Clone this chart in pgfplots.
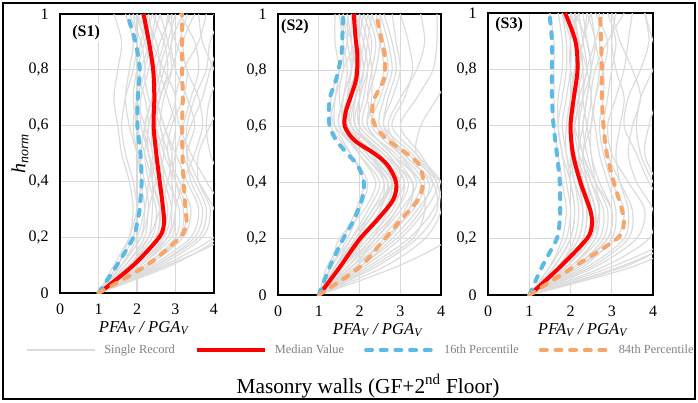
\documentclass[border=0pt]{standalone}
\usepackage{pgfplots}
\usepackage{pgfplotstable}
\usepackage{fontspec}
\setmainfont{Liberation Serif}
\pgfplotsset{compat=1.18}
\definecolor{gridgray}{RGB}{217,217,217}
\definecolor{recgray}{RGB}{220,220,220}
\definecolor{medred}{RGB}{255,0,0}
\definecolor{pblue}{RGB}{92,186,230}
\definecolor{porange}{RGB}{248,165,105}
\definecolor{legtext}{RGB}{128,128,128}

% single records, S1
\pgfplotstableread{
h   r1  r2  r3  r4  r5  r6  r7  r8  r9  r10 r11 r12 r13 r14 r15 r16 r17 r18 r19 r20 r21 r22 r23 r24 r25 r26 r27 r28 r29 r30
0   1   1   1   1   1   1   1   1   1   1   1   1   1   1   1   1   1   1   1   1   1   1   1   1   1   1   1   1   1   1
0.1 1.6 1.9 2.3 2.5 1.5 2.0 2.7 1.8 2.2 1.7 2.1 1.6 2.4 2.8 1.9 2.0 1.4 2.3 1.5 2.6 1.8 2.1 1.7 2.2 1.9 2.5 1.6 2.0 2.9 1.8
0.2 2.1 2.6 3.2 3.6 1.9 2.7 4.0 2.4 3.0 2.2 2.9 2.0 3.4 4.3 2.5 2.8 1.8 3.1 1.8 3.7 2.3 2.8 2.3 3.1 2.6 3.5 2.1 2.7 4.1 2.5
0.3 2.3 2.8 3.4 3.8 2.0 2.6 4.2 2.5 3.1 2.3 3.0 2.2 3.6 4.5 2.6 3.0 2.0 3.2 1.9 3.9 2.4 2.9 2.6 3.3 2.7 3.7 2.2 2.9 4.0 2.6
0.4 2.2 2.6 3.1 3.5 1.9 2.4 3.8 2.3 2.8 2.5 3.2 2.3 3.3 4.2 2.7 2.9 2.1 3.0 1.8 3.6 2.4 2.7 2.8 3.0 2.5 3.4 2.1 2.9 3.6 2.4
0.5 2.0 2.3 2.8 3.2 1.7 2.5 3.4 2.2 2.6 2.7 3.5 2.4 3.0 3.9 2.6 3.0 2.0 2.9 1.6 3.6 2.3 2.4 2.9 2.7 2.3 3.3 2.1 2.8 3.3 2.2
0.6 1.8 2.2 2.9 3.4 1.6 2.8 3.1 2.3 2.5 2.6 3.7 2.2 2.7 3.8 2.4 3.2 1.9 3.0 1.5 3.9 2.1 2.4 2.7 2.5 2.3 3.5 2.2 2.6 3.3 2.0
0.7 1.7 2.4 3.2 3.7 1.7 3.0 3.0 2.2 2.6 2.3 3.6 2.0 2.5 3.9 2.6 3.4 2.0 2.8 1.4 4.2 2.1 2.6 2.5 2.4 2.5 3.3 2.4 2.7 3.5 1.9
0.8 1.8 2.6 3.3 3.9 1.9 2.7 3.2 2.0 2.9 2.2 3.3 2.1 2.4 4.2 2.8 3.6 2.2 2.6 1.5 4.0 2.3 2.5 2.4 2.5 2.7 3.0 2.5 2.9 3.8 2.0
0.9 1.9 2.5 3.0 4.1 2.0 2.4 3.6 2.1 3.1 2.4 3.2 2.3 2.6 4.4 2.7 3.5 2.1 2.8 1.6 3.7 2.4 2.3 2.2 2.7 2.9 2.9 2.3 2.8 3.9 2.2
1.0 1.7 2.2 2.8 4.0 1.9 2.5 3.8 2.3 3.3 2.6 3.5 2.0 2.9 4.5 2.4 3.1 1.8 3.0 1.4 3.6 2.3 2.1 2.0 2.8 2.9 3.2 1.9 2.6 4.2 2.4
}\recA
% single records, S2
\pgfplotstableread{
h   r1  r2  r3  r4  r5  r6  r7  r8  r9  r10 r11 r12 r13 r14 r15 r16 r17 r18 r19 r20 r21 r22 r23 r24 r25 r26 r27 r28 r29 r30
0   1   1   1   1   1   1   1   1   1   1   1   1   1   1   1   1   1   1   1   1   1   1   1   1   1   1   1   1   1   1
0.1 1.4 1.6 1.9 1.3 2.2 1.5 1.8 2.6 1.4 1.7 2.0 1.3 1.6 2.3 1.5 2.9 1.8 1.2 2.0 1.4 1.5 1.7 1.3 1.9 1.6 2.1 1.4 1.8 2.4 1.5
0.2 1.9 2.2 2.6 1.7 3.2 2.0 2.5 3.6 1.8 2.4 2.9 1.8 2.3 3.3 2.1 4.2 2.7 1.6 2.8 2.0 2.1 2.3 1.5 2.7 2.1 3.0 1.9 2.4 3.4 1.9
0.3 2.4 2.8 3.3 2.0 3.8 2.6 3.1 4.0 2.2 3.0 3.5 2.3 2.7 3.6 2.6 4.4 3.2 1.9 3.4 2.5 2.6 2.9 2.1 3.2 2.5 3.6 2.3 2.9 3.9 2.4
0.4 2.7 3.0 3.6 2.2 4.0 2.9 3.3 3.9 2.5 3.4 3.7 2.6 3.1 3.5 2.8 4.0 3.5 2.1 3.8 2.6 3.0 3.2 2.4 3.3 2.7 3.9 2.8 3.1 3.8 2.8
0.5 2.2 2.4 3.0 1.8 3.4 2.5 2.6 3.5 2.0 2.9 3.1 2.1 2.7 3.0 2.3 3.4 2.8 1.8 3.3 2.3 2.5 2.7 2.0 2.8 2.1 3.2 2.4 2.6 3.1 2.2
0.6 1.6 1.7 2.3 1.3 2.8 1.9 1.8 3.0 1.5 2.1 2.4 1.4 2.0 2.6 1.8 3.5 2.2 1.4 2.6 1.7 1.8 2.0 1.6 2.2 1.5 2.5 1.7 1.9 2.7 1.6
0.7 1.7 1.8 2.5 1.4 3.1 2.0 1.7 3.4 1.6 2.2 2.2 1.3 2.0 2.7 1.9 3.9 2.3 1.4 2.8 1.5 1.8 2.1 1.6 2.4 1.6 2.6 1.9 1.9 3.0 1.7
0.8 1.9 2.0 2.7 1.6 3.3 2.2 1.8 3.8 1.7 2.4 2.3 1.5 2.1 2.9 2.1 4.3 2.3 1.5 3.0 1.6 1.9 2.2 1.8 2.6 1.8 2.8 2.1 2.0 3.4 1.9
0.9 1.8 2.0 2.6 1.6 3.2 2.3 1.7 3.9 1.6 2.5 2.4 1.7 2.0 2.8 2.2 4.5 2.2 1.4 2.9 1.9 1.9 2.1 1.9 2.5 1.8 2.7 2.0 2.1 3.6 1.8
1.0 1.8 1.9 2.4 1.6 3.0 2.1 1.6 3.9 1.5 2.5 2.2 1.7 2.0 2.6 2.3 4.4 2.0 1.4 2.8 2.0 1.8 1.9 1.9 2.3 1.7 2.5 2.1 2.2 3.5 1.6
}\recB
% single records, S3
\pgfplotstableread{
h   r1  r2  r3  r4  r5  r6  r7  r8  r9  r10 r11 r12 r13 r14 r15 r16 r17 r18 r19 r20 r21 r22 r23 r24 r25 r26 r27 r28 r29 r30
0   1   1   1   1   1   1   1   1   1   1   1   1   1   1   1   1   1   1   1   1   1   1   1   1   1   1   1   1   1   1
0.1 1.5 1.8 2.2 3.0 1.6 2.0 2.6 1.7 2.1 1.9 3.2 1.5 2.4 1.8 2.0 2.8 1.7 2.3 3.5 1.9 1.7 1.9 2.1 1.6 2.5 1.8 2.0 3.3 1.9 2.2
0.2 1.8 2.4 3.1 4.4 2.0 2.7 3.6 2.2 2.9 2.5 4.6 1.9 3.3 2.3 2.6 3.9 2.1 3.0 4.8 2.4 2.2 2.5 2.8 2.0 3.4 2.3 2.6 4.5 2.4 2.9
0.3 1.9 2.5 3.3 4.3 2.1 2.8 3.8 2.3 3.0 2.7 4.5 2.0 3.4 2.4 2.6 4.0 2.2 3.1 4.6 2.5 2.3 2.6 2.9 2.1 3.5 2.4 2.7 4.4 2.5 3.0
0.4 1.8 2.3 3.0 3.9 2.0 2.5 3.4 2.1 2.6 2.6 4.1 1.9 3.2 2.2 2.4 3.6 2.1 2.9 4.3 2.3 2.2 2.4 2.6 2.0 3.2 2.3 2.5 4.0 2.4 2.7
0.5 1.7 2.1 2.8 3.6 1.9 2.2 3.0 1.9 2.3 2.5 3.8 1.8 3.1 2.0 2.3 3.4 2.0 2.7 4.1 2.2 2.1 2.1 2.4 1.8 2.9 2.2 2.3 3.7 2.3 2.5
0.6 1.6 2.0 2.7 3.3 1.8 2.1 2.9 1.9 2.2 2.4 3.9 1.7 3.2 2.0 2.5 3.5 2.1 2.6 4.3 2.3 2.0 2.0 2.3 1.7 2.8 2.2 2.1 3.6 2.4 2.5
0.7 1.6 2.1 2.8 3.4 1.9 2.3 3.1 2.0 2.2 2.3 4.1 1.7 3.3 2.1 2.6 3.7 2.2 2.5 4.5 2.4 2.0 2.2 2.4 1.8 2.9 2.3 2.1 3.7 2.5 2.6
0.8 1.6 2.2 2.8 3.7 2.0 2.5 3.3 2.1 2.0 2.4 4.2 1.8 3.1 2.3 2.7 3.5 2.2 2.6 4.4 2.5 2.1 2.4 2.5 1.9 3.0 2.3 2.2 4.0 2.4 2.8
0.9 1.6 2.1 2.7 3.9 2.0 2.4 3.4 2.3 2.0 2.6 4.0 1.8 3.0 2.2 2.6 3.2 2.1 2.9 4.2 2.4 2.2 2.3 2.6 1.9 3.1 2.2 2.3 4.2 2.2 2.9
1.0 1.5 1.9 2.7 3.8 1.8 2.1 3.5 2.4 2.2 2.8 3.8 1.7 3.1 2.0 2.5 3.0 2.1 3.3 4.3 2.3 2.0 2.2 2.4 1.8 2.9 2.0 2.5 4.1 2.1 2.6
}\recC
% statistics: median, 16th and 84th percentiles
\pgfplotstableread{
h    med  lo   hi
0    1.02 1.00 1.00
0.1  1.91 1.48 2.26
0.2  2.58 1.91 3.12
0.25 2.70 2.00 3.28
0.3  2.68 2.07 3.26
0.4  2.59 2.12 3.21
0.5  2.50 2.09 3.18
0.6  2.43 2.01 3.17
0.7  2.45 2.02 3.19
0.8  2.42 2.07 3.17
0.9  2.31 1.96 3.17
1.0  2.17 1.74 3.17
}\statA
\pgfplotstableread{
h    med  lo   hi
0    1.01 1.00 1.00
0.1  1.52 1.27 2.01
0.2  2.01 1.60 2.62
0.27 2.45 1.87 3.03
0.34 2.83 2.06 3.44
0.4  2.90 2.11 3.56
0.46 2.70 1.96 3.48
0.5  2.40 1.72 3.19
0.55 1.88 1.43 2.70
0.6  1.64 1.27 2.39
0.65 1.66 1.25 2.31
0.7  1.77 1.27 2.37
0.77 1.92 1.43 2.60
0.85 1.95 1.55 2.62
0.92 1.90 1.58 2.52
1.0  1.86 1.60 2.41
}\statB
\pgfplotstableread{
h    med  lo   hi
0    1.01 1.00 1.00
0.1  1.75 1.31 2.08
0.2  2.40 1.67 3.13
0.25 2.52 1.73 3.29
0.3  2.48 1.75 3.25
0.4  2.24 1.74 3.05
0.5  2.06 1.67 2.88
0.6  2.00 1.59 2.80
0.7  2.08 1.55 2.76
0.8  2.17 1.55 2.76
0.9  2.12 1.55 2.74
1.0  1.87 1.49 2.72
}\statC

\pgfplotsset{
  panel/.style={
    scale only axis, anchor=south west,
    xmin=0, xmax=4, ymin=0, ymax=1,
    xtick={0,1,2,3,4}, ytick={0,0.2,0.4,0.6,0.8,1},
    grid=major, grid style={draw=gridgray, line width=1pt},
    axis line style={line width=1.5pt, black},
    major tick length=0pt, tick style={draw=none},
    ticklabel style={font=\fontsize{12}{14}\selectfont},
    yticklabel style={xshift=-5pt},
    xticklabel style={yshift=-7pt, inner sep=1pt},
    /pgf/number format/.cd, use comma, assume math mode=true,
    /pgfplots/.cd,
    xlabel={\textit{PFA\textsubscript{V} / PGA\textsubscript{V}}},
    xlabel style={font=\fontsize{12.5}{14}\selectfont, at={(axis description cs:0.5,0)}, anchor=center, yshift=-26.5pt, inner sep=0pt},
    legend image code/.code={\draw[##1] (0pt,0pt) -- (51pt,0pt);},
  },
  rec/.style={recgray, line width=0.9pt, smooth, forget plot},
  medl/.style={medred, line width=3pt, smooth},
  lol/.style={pblue, line width=3pt, smooth, line cap=round, dash pattern=on 4.5pt off 6.5pt},
  hil/.style={porange, line width=3pt, smooth, line cap=round, dash pattern=on 4.5pt off 6.5pt},
}

\begin{document}
\begin{tikzpicture}[x=0.75pt, y=-0.75pt]
\path (0,0) rectangle (698,402);
\draw[line width=1.2pt] (3,3) rectangle (695,399);

% ---------------- S1
\begin{axis}[panel, at={(45pt,-219.75pt)}, width=115.5pt, height=209.25pt,
  xlabel style={xshift=5pt},
  ylabel={\textit{h}\textsubscript{\textit{norm}}},
  ylabel style={font=\fontsize{15}{17}\selectfont, at={(axis description cs:-0.26,0.5)}, anchor=center},
  legend columns=4,
  legend style={at={(axis description cs:-0.2208,-0.2043)}, anchor=west, draw=none, fill=none,
    font=\fontsize{9.3}{11}\selectfont, text=legtext, inner sep=0pt,
    nodes={inner sep=0pt},
    /tikz/every odd column/.append style={column sep=6pt},
    /tikz/every even column/.append style={column sep=15pt}},
]
\pgfplotsinvokeforeach{1,...,30}{\addplot[rec] table[x=r#1, y=h]{\recA};}
\addlegendimage{recgray, line width=1.5pt}
\addlegendentry{Single Record}
\addplot[medl] table[x=med, y=h]{\statA};
\addlegendentry{Median Value}
\addplot[lol] table[x=lo, y=h]{\statA};
\addlegendentry{16th Percentile}
\addplot[hil] table[x=hi, y=h]{\statA};
\addlegendentry{84th Percentile}
\node[anchor=west, font=\bfseries\fontsize{12}{14}\selectfont, fill=white, inner sep=1pt] at (rel axis cs:0.07,0.932) {(S1)};
\end{axis}

% ---------------- S2
\begin{axis}[panel, at={(208.5pt,-221.25pt)}, width=122.25pt, height=210.75pt,
  xlabel style={xshift=13.5pt}]
\pgfplotsinvokeforeach{1,...,30}{\addplot[rec] table[x=r#1, y=h]{\recB};}
\addplot[medl] table[x=med, y=h]{\statB};
\addplot[lol] table[x=lo, y=h]{\statB};
\addplot[hil] table[x=hi, y=h]{\statB};
\node[anchor=west, font=\bfseries\fontsize{12}{14}\selectfont, fill=white, inner sep=1pt] at (rel axis cs:0.01,0.954) {(S2)};
\end{axis}

% ---------------- S3
\begin{axis}[panel, at={(366pt,-221.25pt)}, width=123.75pt, height=211.5pt,
  xlabel style={xshift=9pt}]
\pgfplotsinvokeforeach{1,...,30}{\addplot[rec] table[x=r#1, y=h]{\recC};}
\addplot[medl] table[x=med, y=h]{\statC};
\addplot[lol] table[x=lo, y=h]{\statC};
\addplot[hil] table[x=hi, y=h]{\statC};
\node[anchor=west, font=\bfseries\fontsize{12}{14}\selectfont, fill=white, inner sep=1pt] at (rel axis cs:0.035,0.957) {(S3)};
\end{axis}

\node[font=\fontsize{16}{18}\selectfont] at (368,386) {Masonry walls (GF+2\textsuperscript{nd} Floor)};
\end{tikzpicture}
\end{document}
